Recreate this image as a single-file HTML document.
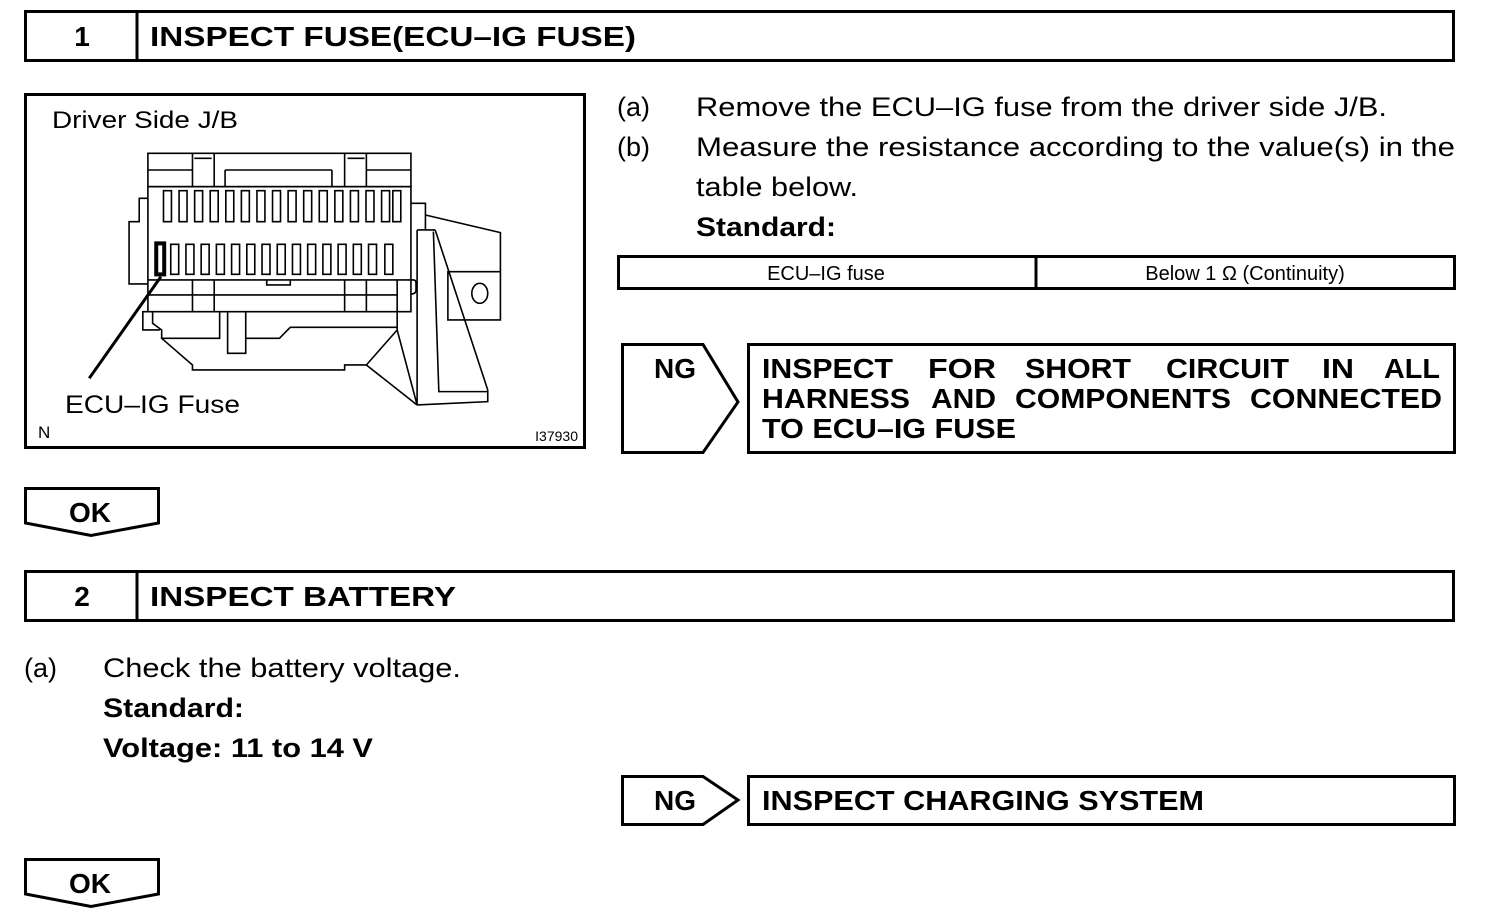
<!DOCTYPE html>
<html><head><meta charset="utf-8"><style>
html,body{margin:0;padding:0;background:#fff;}
svg{display:block;}
text{font-family:"Liberation Sans",Arial,sans-serif;fill:#000;}
.b{font-weight:bold;}
</style></head><body>
<svg width="1504" height="920" viewBox="0 0 1504 920" xmlns="http://www.w3.org/2000/svg">
<g fill="none" stroke="#000" stroke-width="3">
<rect x="25.5" y="11.5" width="1428" height="49"/>
<line x1="137" y1="11" x2="137" y2="61"/>
<rect x="25.5" y="94.5" width="559" height="353"/>
<rect x="618.5" y="256.5" width="836" height="32"/>
<line x1="1036" y1="256" x2="1036" y2="289"/>
<polygon points="622.5,344.5 703,344.5 738,402 703,452.5 622.5,452.5"/>
<rect x="748.5" y="344.5" width="706" height="108"/>
<polygon points="25.5,488.5 158.5,488.5 158.5,523 91,535.5 25.5,523"/>
<rect x="25.5" y="571.5" width="1428" height="49"/>
<line x1="137" y1="571" x2="137" y2="621"/>
<polygon points="622.5,776.5 703,776.5 738,800 703,824.5 622.5,824.5"/>
<rect x="748.5" y="776.5" width="706" height="48"/>
<polygon points="25.5,859.5 158.5,859.5 158.5,894 91,906.5 25.5,894"/>
</g>

<g transform="translate(24,90) scale(0.3623,0.3333)" fill="none" stroke="#000" stroke-width="1.6">
<rect x="342" y="190" width="726" height="100" vector-effect="non-scaling-stroke"/>
<path vector-effect="non-scaling-stroke" d="M465,190V290M525,190V290M885,190V290M945,190V290M470,205H518M893,205H940M342,240H465M555,240H850M945,240H1068M555,240V290M850,240V290"/>
<rect x="342" y="290" width="726" height="375" vector-effect="non-scaling-stroke"/>
<path vector-effect="non-scaling-stroke" d="M342,570H1075Q1082,570 1082,580V600Q1082,612 1068,612M342,615H1030M465,570V665M525,570V665M885,570V665M945,570V665M1030,570V665M670,570V585H735V570"/>
<path vector-effect="non-scaling-stroke" d="M342,325H318V395H290V582H342"/>
<path vector-effect="non-scaling-stroke" d="M342,665H328V720H375M355,665V700L380,720V745H540V665M380,745L465,825V840H885V825H945L1030,720V665M562,665V790H612V665M612,745H705L735,712H1030"/>
<path vector-effect="non-scaling-stroke" d="M1068,340H1108V420M1108,375L1315,428V690H1170V545H1315M1085,420H1135M1085,420V945M1135,420L1280,900M1130,425L1145,905H1280M1085,945L1280,935V900M1030,720L1085,945M945,825L1085,945"/>
<ellipse cx="1258" cy="610" rx="22" ry="30" vector-effect="non-scaling-stroke"/>
<line x1="378" y1="560" x2="180" y2="865" stroke-width="3" vector-effect="non-scaling-stroke"/>
<g>
<rect x="385" y="302" width="22" height="93" vector-effect="non-scaling-stroke"/>
<rect x="428" y="302" width="22" height="93" vector-effect="non-scaling-stroke"/>
<rect x="471" y="302" width="22" height="93" vector-effect="non-scaling-stroke"/>
<rect x="514" y="302" width="22" height="93" vector-effect="non-scaling-stroke"/>
<rect x="557" y="302" width="22" height="93" vector-effect="non-scaling-stroke"/>
<rect x="600" y="302" width="22" height="93" vector-effect="non-scaling-stroke"/>
<rect x="643" y="302" width="22" height="93" vector-effect="non-scaling-stroke"/>
<rect x="686" y="302" width="22" height="93" vector-effect="non-scaling-stroke"/>
<rect x="729" y="302" width="22" height="93" vector-effect="non-scaling-stroke"/>
<rect x="772" y="302" width="22" height="93" vector-effect="non-scaling-stroke"/>
<rect x="815" y="302" width="22" height="93" vector-effect="non-scaling-stroke"/>
<rect x="858" y="302" width="22" height="93" vector-effect="non-scaling-stroke"/>
<rect x="901" y="302" width="22" height="93" vector-effect="non-scaling-stroke"/>
<rect x="944" y="302" width="22" height="93" vector-effect="non-scaling-stroke"/>
<rect x="987" y="302" width="22" height="93" vector-effect="non-scaling-stroke"/>
<rect x="1018" y="302" width="22" height="93" vector-effect="non-scaling-stroke"/>
<rect x="365" y="460" width="22" height="93" stroke-width="4" vector-effect="non-scaling-stroke"/>
<rect x="405" y="463" width="22" height="90" vector-effect="non-scaling-stroke"/>
<rect x="447" y="463" width="22" height="90" vector-effect="non-scaling-stroke"/>
<rect x="489" y="463" width="22" height="90" vector-effect="non-scaling-stroke"/>
<rect x="531" y="463" width="22" height="90" vector-effect="non-scaling-stroke"/>
<rect x="573" y="463" width="22" height="90" vector-effect="non-scaling-stroke"/>
<rect x="615" y="463" width="22" height="90" vector-effect="non-scaling-stroke"/>
<rect x="657" y="463" width="22" height="90" vector-effect="non-scaling-stroke"/>
<rect x="699" y="463" width="22" height="90" vector-effect="non-scaling-stroke"/>
<rect x="741" y="463" width="22" height="90" vector-effect="non-scaling-stroke"/>
<rect x="783" y="463" width="22" height="90" vector-effect="non-scaling-stroke"/>
<rect x="825" y="463" width="22" height="90" vector-effect="non-scaling-stroke"/>
<rect x="867" y="463" width="22" height="90" vector-effect="non-scaling-stroke"/>
<rect x="909" y="463" width="22" height="90" vector-effect="non-scaling-stroke"/>
<rect x="951" y="463" width="22" height="90" vector-effect="non-scaling-stroke"/>
<rect x="996" y="463" width="22" height="90" vector-effect="non-scaling-stroke"/>
</g>
</g>

<text x="82" y="46" font-size="28" class="b" text-anchor="middle">1</text>
<text x="150" y="46" font-size="28" class="b" textLength="486" lengthAdjust="spacingAndGlyphs">INSPECT FUSE(ECU–IG FUSE)</text>
<text x="52" y="128" font-size="24" textLength="186" lengthAdjust="spacingAndGlyphs">Driver Side J/B</text>
<text x="65" y="413" font-size="25" textLength="175" lengthAdjust="spacingAndGlyphs">ECU–IG Fuse</text>
<text x="38" y="438" font-size="17">N</text>
<text x="578" y="441" font-size="14" text-anchor="end">I37930</text>

<text x="617" y="116" font-size="27">(a)</text>
<text x="696" y="116" font-size="27" textLength="691" lengthAdjust="spacingAndGlyphs">Remove the ECU–IG fuse from the driver side J/B.</text>
<text x="617" y="156" font-size="27">(b)</text>
<text x="696" y="156" font-size="27" textLength="759" lengthAdjust="spacingAndGlyphs">Measure the resistance according to the value(s) in the</text>
<text x="696" y="196" font-size="27" textLength="162" lengthAdjust="spacingAndGlyphs">table below.</text>
<text x="696" y="236" font-size="27" class="b" textLength="140" lengthAdjust="spacingAndGlyphs">Standard:</text>
<text x="826" y="280" font-size="20" text-anchor="middle">ECU–IG fuse</text>
<text x="1245" y="280" font-size="20" text-anchor="middle">Below 1 Ω (Continuity)</text>

<text x="675" y="378" font-size="28" class="b" text-anchor="middle">NG</text>
<g font-size="28" class="b">
<text x="762" y="378" class="b" textLength="131" lengthAdjust="spacingAndGlyphs">INSPECT</text>
<text x="928" y="378" class="b" textLength="68" lengthAdjust="spacingAndGlyphs">FOR</text>
<text x="1025" y="378" class="b" textLength="106" lengthAdjust="spacingAndGlyphs">SHORT</text>
<text x="1166" y="378" class="b" textLength="123" lengthAdjust="spacingAndGlyphs">CIRCUIT</text>
<text x="1322" y="378" class="b" textLength="32" lengthAdjust="spacingAndGlyphs">IN</text>
<text x="1384" y="378" class="b" textLength="56" lengthAdjust="spacingAndGlyphs">ALL</text>
<text x="762" y="408" class="b" textLength="148" lengthAdjust="spacingAndGlyphs">HARNESS</text>
<text x="931" y="408" class="b" textLength="65" lengthAdjust="spacingAndGlyphs">AND</text>
<text x="1015" y="408" class="b" textLength="216" lengthAdjust="spacingAndGlyphs">COMPONENTS</text>
<text x="1250" y="408" class="b" textLength="192" lengthAdjust="spacingAndGlyphs">CONNECTED</text>
<text x="762" y="438" class="b" textLength="254" lengthAdjust="spacingAndGlyphs">TO ECU–IG FUSE</text>
</g>

<text x="90" y="522" font-size="28" class="b" text-anchor="middle">OK</text>

<text x="82" y="606" font-size="28" class="b" text-anchor="middle">2</text>
<text x="150" y="606" font-size="28" class="b" textLength="306" lengthAdjust="spacingAndGlyphs">INSPECT BATTERY</text>

<text x="24" y="677" font-size="27">(a)</text>
<text x="103" y="677" font-size="27" textLength="358" lengthAdjust="spacingAndGlyphs">Check the battery voltage.</text>
<text x="103" y="717" font-size="27" class="b" textLength="141" lengthAdjust="spacingAndGlyphs">Standard:</text>
<text x="103" y="757" font-size="27" class="b" textLength="270" lengthAdjust="spacingAndGlyphs">Voltage: 11 to 14 V</text>

<text x="675" y="810" font-size="28" class="b" text-anchor="middle">NG</text>
<text x="762" y="810" font-size="28" class="b" textLength="442" lengthAdjust="spacingAndGlyphs">INSPECT CHARGING SYSTEM</text>

<text x="90" y="893" font-size="28" class="b" text-anchor="middle">OK</text>
</svg>
</body></html>
